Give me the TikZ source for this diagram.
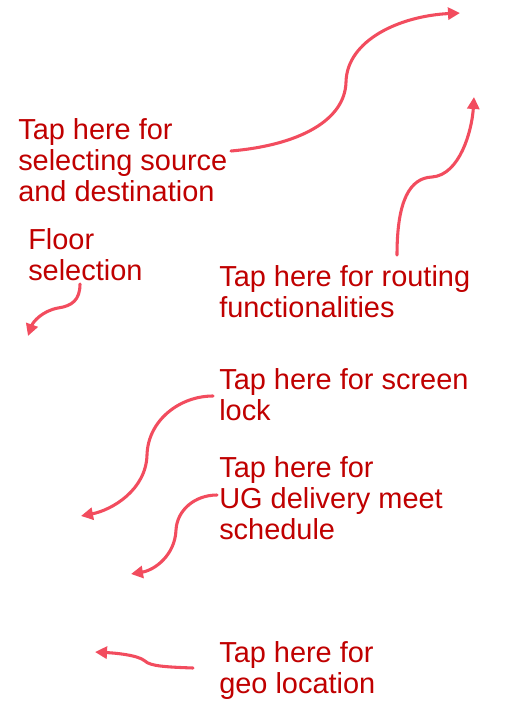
\documentclass[tikz,border=0pt]{standalone}
\usepackage{fontspec}
\setmainfont{Liberation Sans}
\usetikzlibrary{arrows.meta}
\definecolor{txtred}{RGB}{192,0,0}
\definecolor{arrred}{RGB}{242,76,94}
\begin{document}
\begin{tikzpicture}[x=0.75pt,y=-0.75pt,
  label/.style={anchor=base west,inner sep=0pt,align=left,text=txtred,
    font=\fontsize{21.7}{23.25}\selectfont},
  callout/.style={draw=arrred,line width=2.3pt,line cap=round,
    -{Triangle[length=9pt,width=9pt]}}]
\useasboundingbox (0,0) rectangle (512,717);
\fill[white] (0,0) rectangle (512,717);
% texts (anchored at the baseline of their last line)
\node[label] (src) at (18,201) {Tap here for\\selecting source\\and destination};
\node[label] (floor) at (28,280) {Floor\\selection};
\node[label] (route) at (219,317) {Tap here for routing\\functionalities};
\node[label] (lock) at (219,420) {Tap here for screen\\lock};
\node[label] (ug) at (219,539) {Tap here for\\UG delivery meet\\schedule};
\node[label] (geo) at (219,693) {Tap here for\\geo location};
% arrow end points
\coordinate (s1) at (231,151);
\coordinate (e1) at (460,13);
\coordinate (s2) at (397,255);
\coordinate (e2) at (474,97);
\coordinate (s3) at (80,284);
\coordinate (e3) at (28,336);
\coordinate (s4) at (213,396);
\coordinate (e4) at (81,516);
\coordinate (s5) at (217,495);
\coordinate (e5) at (131,574);
\coordinate (s6) at (193,668);
\coordinate (e6) at (95,652);
% connectors
\draw[callout] (s1) .. controls (300,145) and (345,120) .. (346,82)
  .. controls (347,40) and (400,16) .. (e1);
\draw[callout] (s2) .. controls (397,200) and (410,178) .. (432,177)
  .. controls (460,175) and (472,130) .. (e2);
\draw[callout] (s3) .. controls (80,300) and (72,306) .. (58,308)
  .. controls (42,311) and (33,322) .. (e3);
\draw[callout] (s4) .. controls (180,396) and (148,420) .. (147,455)
  .. controls (146,490) and (112,510) .. (e4);
\draw[callout] (s5) .. controls (195,495) and (177,510) .. (176,530)
  .. controls (175,555) and (155,570) .. (e5);
\draw[callout] (s6) .. controls (165,667) and (150,666) .. (145,661)
  .. controls (138,655) and (115,653) .. (e6);
\end{tikzpicture}
\end{document}
